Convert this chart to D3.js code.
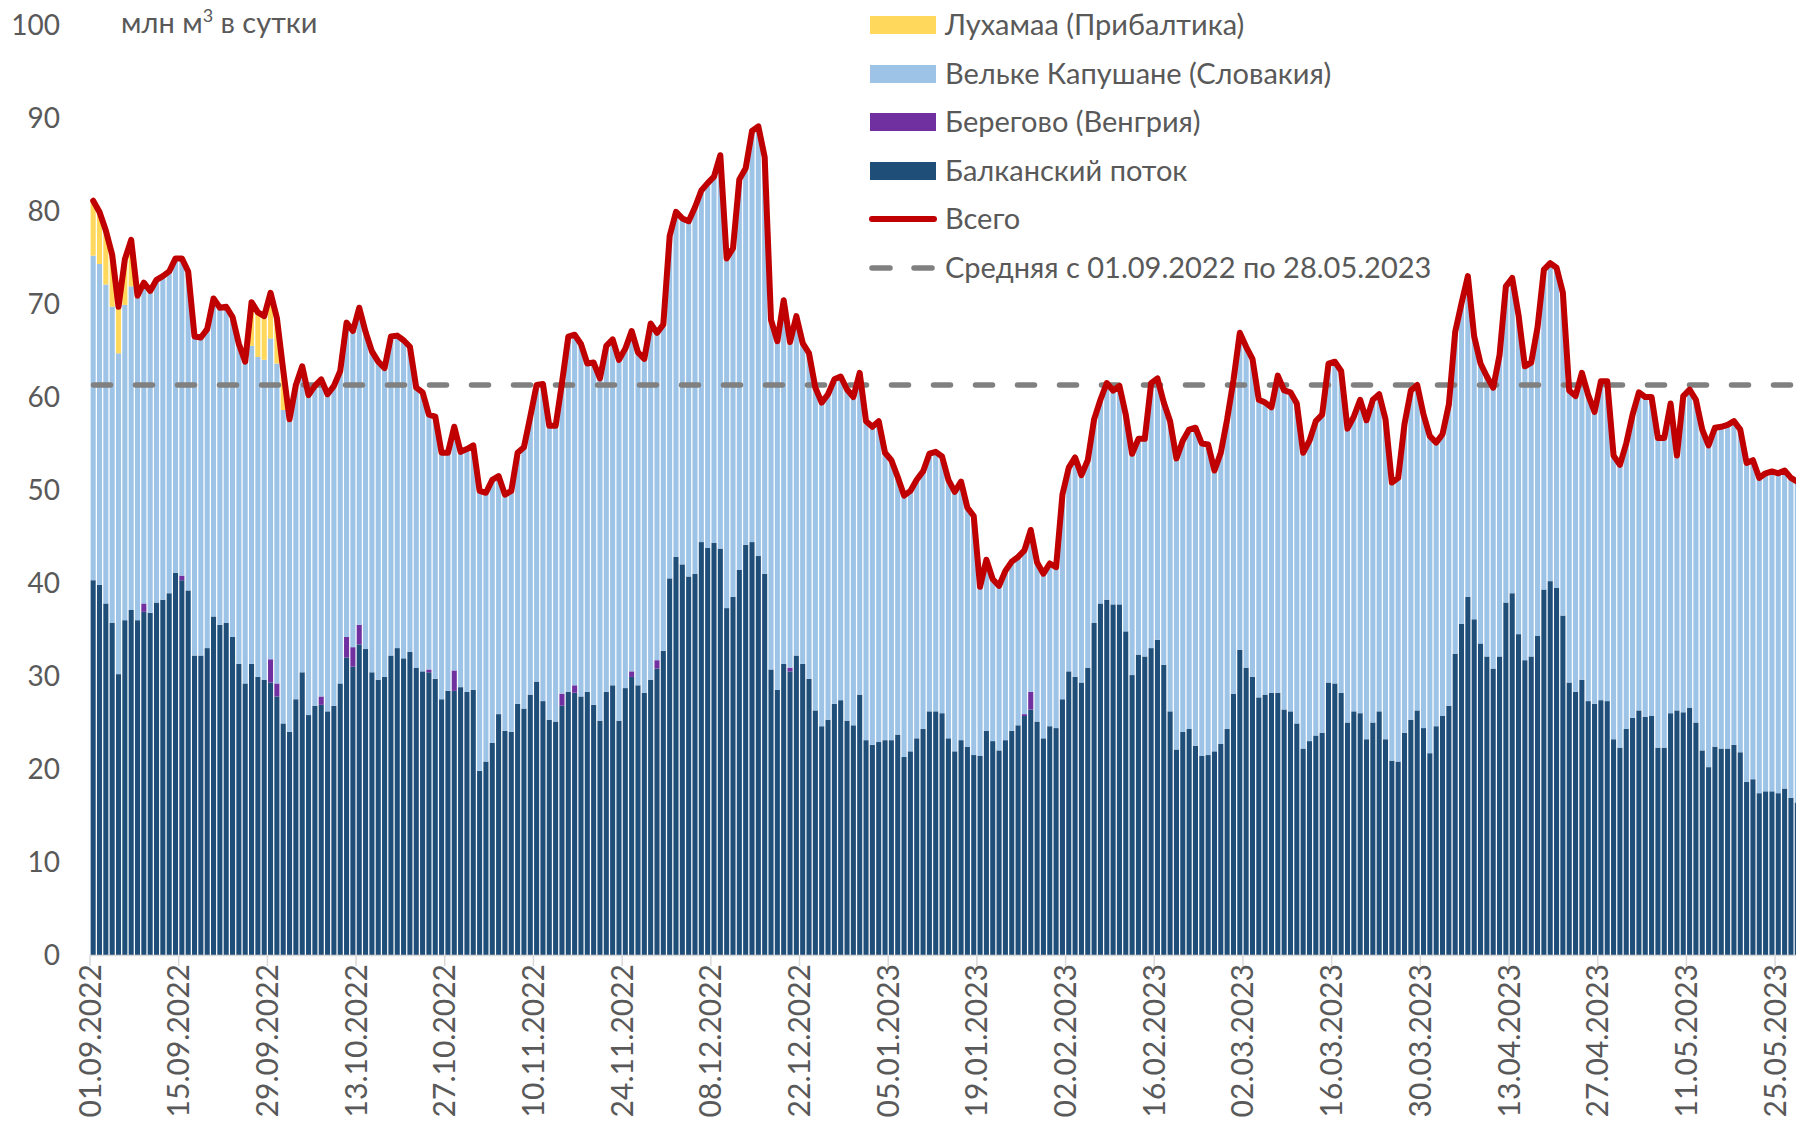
<!DOCTYPE html>
<meta charset="utf-8">
<head>
  <style>
    body { margin: 0; background: #fff; }
    svg { display: block; font-family: Lato, "Open Sans", sans-serif; }
    .tick-label { font-size: 28px; fill: #595959; }
    .x-label { font-size: 30px; fill: #595959; }
    .legend-text { font-size: 29px; fill: #595959; }
  </style>
  <script src="https://cdn.jsdelivr.net/npm/d3@7"></script>
</head>
<body>
  <svg width="1796" height="1125"></svg>
  <script>

    // daily values, 01.09.2022 .. 28.05.2023, mln m3 per day
    var startDate = "01.09.2022", endDate = "28.05.2023";

    var total = [
      81.1,79.9,77.9,75.3,69.7,74.8,76.9,70.9,72.3,71.4,72.6,73.0,73.5,74.9,74.9,73.5,66.5,66.4,67.3,70.6,
      69.6,69.7,68.6,65.7,63.8,70.2,69.1,68.7,71.2,68.5,62.9,57.6,61.3,63.3,60.2,61.2,61.9,60.3,61.2,62.8,
      68.0,67.1,69.6,67.0,64.9,63.8,63.1,66.5,66.6,66.1,65.4,61.0,60.5,58.1,57.9,54.0,54.0,56.8,54.1,54.4,
      54.8,49.9,49.7,51.1,51.5,49.5,49.9,54.0,54.6,57.9,61.3,61.4,56.9,56.9,61.5,66.5,66.7,65.7,63.6,63.7,
      62.0,65.5,66.2,64.0,65.2,67.1,64.8,64.1,67.9,66.9,67.8,77.3,79.9,79.2,78.9,80.4,82.2,83.0,83.7,86.0,
      74.9,76.0,83.4,84.6,88.6,89.1,85.8,68.3,66.0,70.4,65.9,68.7,65.8,64.7,61.0,59.4,60.3,61.9,62.2,60.8,
      60.0,62.6,57.4,56.8,57.4,54.0,53.2,51.4,49.4,49.9,51.1,52.0,53.9,54.1,53.6,51.1,49.8,50.9,48.1,47.2,
      39.6,42.5,40.4,39.7,41.3,42.3,42.8,43.5,45.7,42.2,41.0,42.1,41.7,49.5,52.4,53.5,51.6,53.2,57.6,59.7,
      61.5,60.7,61.2,58.1,53.9,55.5,55.5,61.5,62.0,59.4,57.4,53.4,55.3,56.5,56.7,55.0,54.9,52.1,54.0,57.6,
      61.8,66.9,65.4,64.1,59.7,59.4,58.9,62.3,60.7,60.5,59.3,54.0,55.3,57.4,58.1,63.6,63.8,62.8,56.6,57.9,
      59.7,57.5,59.7,60.3,57.6,50.8,51.3,57.1,60.7,61.3,58.1,55.8,55.1,56.0,59.2,67.0,70.1,73.0,66.5,63.6,
      62.2,61.0,64.5,71.9,72.8,68.8,63.3,63.7,67.5,73.7,74.4,73.9,71.2,60.7,60.1,62.6,60.2,58.4,61.7,61.7,
      53.7,52.7,55.0,58.1,60.5,60.0,60.0,55.6,55.6,59.3,53.7,60.1,60.8,59.7,56.5,54.8,56.7,56.8,57.0,57.4,
      56.5,52.9,53.2,51.3,51.8,52.0,51.8,52.1,51.3,50.9
    ];

    var balkan = [
      40.3,39.8,37.8,35.7,30.2,36.0,37.1,36.0,36.9,36.8,37.9,38.2,38.9,41.1,40.3,39.2,32.2,32.2,33.0,36.4,
      35.5,35.7,34.2,31.3,29.2,31.3,29.9,29.6,29.3,27.8,24.9,24.0,27.5,30.4,25.8,26.8,26.9,26.2,26.8,29.2,
      32.0,31.0,33.4,32.9,30.4,29.6,29.9,32.2,33.0,31.9,32.6,30.9,30.5,30.4,29.7,27.5,28.4,28.4,28.8,28.3,
      28.5,19.8,20.8,22.8,25.9,24.1,24.0,27.0,26.5,28.0,29.4,27.3,25.3,25.1,26.8,28.3,28.2,27.8,28.3,26.9,
      25.2,28.3,29.0,25.2,28.7,29.9,29.0,28.2,29.6,30.8,32.7,40.5,42.8,42.0,40.7,41.0,44.4,43.8,44.3,43.7,
      37.3,38.5,41.4,44.1,44.4,42.9,41.0,30.7,28.5,31.3,30.5,32.2,31.3,29.7,26.3,24.6,25.3,27.0,27.4,25.2,
      24.7,28.0,23.1,22.6,22.9,23.1,23.1,23.7,21.3,21.9,23.3,24.3,26.2,26.2,26.0,23.3,21.9,23.1,22.4,21.5,
      21.4,24.1,23.0,22.0,23.1,24.1,24.7,25.7,26.4,25.1,23.3,24.6,24.4,27.5,30.5,29.9,29.3,30.9,35.7,37.8,
      38.2,37.7,37.7,34.8,30.1,32.3,32.1,33.0,33.9,31.2,26.2,22.1,24.0,24.3,22.5,21.4,21.5,21.9,22.7,24.3,
      28.1,32.8,30.9,29.9,27.7,28.0,28.2,28.2,26.4,26.2,24.9,22.2,23.0,23.6,23.9,29.3,29.2,28.2,25.0,26.2,
      26.0,23.2,25.0,26.2,23.2,20.9,20.8,23.9,25.3,26.3,24.4,21.7,24.6,25.7,26.8,32.4,35.6,38.5,36.1,33.5,
      32.1,30.8,32.1,37.9,38.9,34.5,31.7,32.1,34.3,39.3,40.2,39.5,36.5,29.3,28.3,29.6,27.3,27.0,27.4,27.3,
      23.2,22.3,24.3,25.5,26.3,25.6,25.7,22.3,22.3,26.0,26.3,26.1,26.6,25.0,22.0,20.2,22.4,22.2,22.2,22.6,
      21.8,18.6,18.9,17.4,17.6,17.6,17.4,17.9,16.9,16.4
    ];

    // only the days where these flows are visible
    var beregovo = [
      ["09.09.2022",0.9],["15.09.2022",0.5],["29.09.2022",2.5],["30.09.2022",1.4],["07.10.2022",0.9],
      ["11.10.2022",2.2],["12.10.2022",2.1],["13.10.2022",2.1],["24.10.2022",0.3],["28.10.2022",2.2],
      ["14.11.2022",1.3],["16.11.2022",0.8],["25.11.2022",0.6],["29.11.2022",0.9],["20.12.2022",0.4],
      ["26.01.2023",0.2],["27.01.2023",1.9]
    ];

    var luhamaa = [
      ["01.09.2022",5.9],["02.09.2022",5.6],["03.09.2022",5.8],["04.09.2022",5.6],["05.09.2022",5.0],
      ["06.09.2022",4.9],["07.09.2022",5.0],["26.09.2022",4.7],["27.09.2022",4.8],["28.09.2022",4.7],
      ["29.09.2022",4.9],["30.09.2022",4.9],["01.10.2022",4.3]
    ];

    var average = 61.3;

    var yTicks = [0,10,20,30,40,50,60,70,80,90,100];
    var xTickLabels = ["01.09.2022","15.09.2022","29.09.2022","13.10.2022","27.10.2022","10.11.2022",
      "24.11.2022","08.12.2022","22.12.2022","05.01.2023","19.01.2023","02.02.2023","16.02.2023",
      "02.03.2023","16.03.2023","30.03.2023","13.04.2023","27.04.2023","11.05.2023","25.05.2023"];

    var seriesNames = ["Лухамаа (Прибалтика)", "Вельке Капушане (Словакия)", "Берегово (Венгрия)",
      "Балканский поток", "Всего", "Средняя с 01.09.2022 по 28.05.2023"];
    var colors = {luhamaa: "#FFD85C", velke: "#9DC3E6", beregovo: "#7030A0", balkan: "#1F4E79"};

    var svg = d3.select("svg");
    var fmt = d3.timeFormat("%d.%m.%Y"), parse = d3.timeParse("%d.%m.%Y");
    var days = d3.timeDay.range(parse(startDate), d3.timeDay.offset(parse(endDate), 1)).map(fmt);

    var berMap = new Map(beregovo), luhMap = new Map(luhamaa);
    var rows = days.map(function(d, i) {
      var b = berMap.get(d) || 0, l = luhMap.get(d) || 0;
      return {day: d, balkan: balkan[i], beregovo: b, luhamaa: l,
              velke: total[i] - balkan[i] - b - l, total: total[i]};
    });

    var x = d3.scaleBand().domain(days).range([90, 90 + days.length * 6.335]).paddingInner(0.2).paddingOuter(0.1);
    var y = d3.scaleLinear().domain([0, 100]).range([955, 25]);

    var stack = d3.stack().keys(["balkan", "beregovo", "velke", "luhamaa"]);

    // bars
    svg.append("g").selectAll("g")
      .data(stack(rows))
      .enter().append("g")
      .attr("fill", function(s) { return colors[s.key]; })
      .selectAll("rect")
      .data(function(s) { return s; })
      .enter().append("rect")
      .attr("x", function(d) { return x(d.data.day); })
      .attr("width", x.bandwidth())
      .attr("y", function(d) { return y(d[1]); })
      .attr("height", function(d) { return Math.max(0, y(d[0]) - y(d[1])); });

    // average
    svg.append("line")
      .attr("x1", 93.5).attr("x2", 1800)
      .attr("y1", y(average)).attr("y2", y(average))
      .attr("stroke", "#808080").attr("stroke-width", 5.5)
      .attr("stroke-linecap", "round").attr("stroke-dasharray", "17,25");

    // total line
    svg.append("path")
      .datum(rows)
      .attr("fill", "none").attr("stroke", "#C00000").attr("stroke-width", 6)
      .attr("stroke-linejoin", "round").attr("stroke-linecap", "round")
      .attr("d", d3.line()
        .x(function(d) { return x(d.day) + x.bandwidth() / 2; })
        .y(function(d) { return y(d.total); }));

    // x axis
    var step = x.step();
    svg.append("line").attr("x1", 90).attr("x2", 1800).attr("y1", 955.5).attr("y2", 955.5)
      .attr("stroke", "#d9d9d9").attr("stroke-width", 1.5);
    var xt = svg.append("g").selectAll("g").data(xTickLabels).enter().append("g")
      .attr("transform", function(d) { return "translate(" + (90 + days.indexOf(d) * step) + ",0)"; });
    xt.append("line").attr("y1", 955).attr("y2", 966).attr("stroke", "#d9d9d9").attr("stroke-width", 1.5);
    xt.append("text").attr("class", "x-label")
      .attr("transform", "translate(0,964) rotate(-90)")
      .attr("text-anchor", "end").attr("dy", "0.35em")
      .text(function(d) { return d; });

    // y axis
    svg.append("g").selectAll("text").data(yTicks).enter().append("text")
      .attr("class", "tick-label")
      .attr("x", 60).attr("y", function(d) { return y(d); })
      .attr("dy", "0.35em").attr("text-anchor", "end")
      .text(function(d) { return d; });

    var unit = svg.append("text").attr("class", "legend-text").attr("x", 121).attr("y", 33);
    unit.append("tspan").text("млн м");
    unit.append("tspan").attr("font-size", "18px").attr("dy", -11).text("3");
    unit.append("tspan").attr("dy", 11).text(" в сутки");

    // legend
    var legY = [25, 74, 122, 171, 219, 268];
    var leg = svg.append("g");
    var swatch = [colors.luhamaa, colors.velke, colors.beregovo, colors.balkan];
    swatch.forEach(function(c, i) {
      leg.append("rect").attr("x", 870).attr("y", legY[i] - 9).attr("width", 66).attr("height", 18).attr("fill", c);
    });
    leg.append("line").attr("x1", 872).attr("x2", 934).attr("y1", legY[4]).attr("y2", legY[4])
      .attr("stroke", "#C00000").attr("stroke-width", 6).attr("stroke-linecap", "round");
    leg.append("line").attr("x1", 872).attr("x2", 936).attr("y1", legY[5]).attr("y2", legY[5])
      .attr("stroke", "#808080").attr("stroke-width", 5.5).attr("stroke-linecap", "round")
      .attr("stroke-dasharray", "18,24");
    leg.selectAll("text").data(seriesNames).enter().append("text")
      .attr("class", "legend-text")
      .attr("x", 945).attr("y", function(d, i) { return legY[i]; })
      .attr("dy", "0.35em")
      .text(function(d) { return d; });

  </script>
</body>
